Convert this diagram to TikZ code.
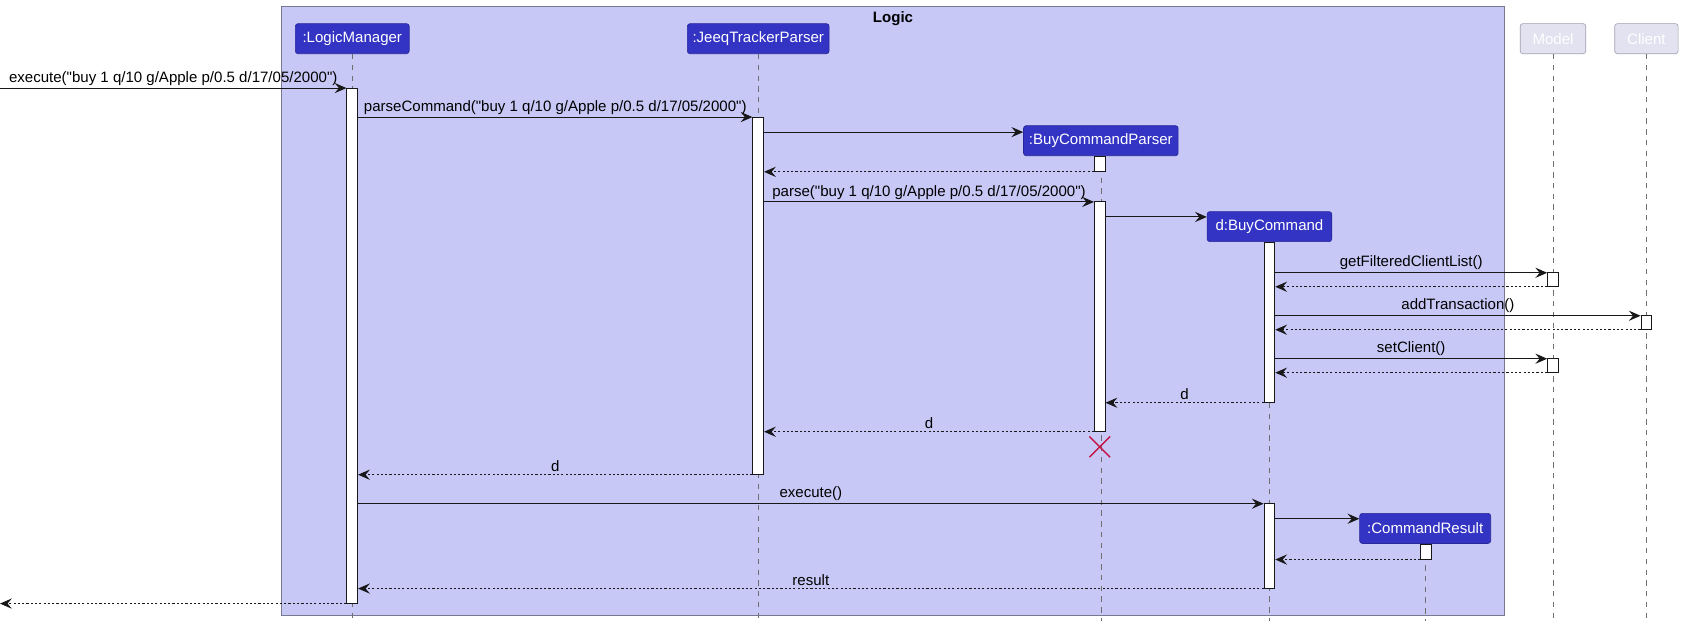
\documentclass[tikz,border=0pt]{standalone}
\usepackage{fontspec}
\newfontfamily\uifont{Liberation Sans}
\usetikzlibrary{arrows.meta,shapes.misc}
\definecolor{framefill}{RGB}{200,200,247}
\definecolor{frameborder}{RGB}{120,120,145}
\definecolor{partfill}{RGB}{51,51,196}
\definecolor{partborder}{RGB}{40,40,150}
\definecolor{extfill}{RGB}{226,226,240}
\definecolor{extborder}{RGB}{160,160,178}
\definecolor{linecol}{RGB}{24,24,24}
\definecolor{lifecol}{RGB}{110,110,110}
\definecolor{xred}{RGB}{196,20,70}
\newcommand{\lblfont}{\uifont\fontsize{14}{16}\selectfont}
\begin{document}
\begin{tikzpicture}[x=1pt,y=-1pt,
  part/.style={rectangle, rounded corners=2.5pt, draw=partborder, line width=0.6pt, fill=partfill, text=white, minimum height=28pt, inner xsep=2pt, inner ysep=0pt, font=\lblfont},
  extpart/.style={part, fill=extfill, draw=extborder},
  actbar/.style={rectangle, draw=linecol, fill=white, line width=0.8pt, minimum width=10pt, inner sep=0pt},
  life/.style={draw=lifecol, line width=0.6pt, dash pattern=on 5pt off 5pt},
  call/.style={draw=linecol, line width=1pt, -{Stealth[length=11pt,width=9.5pt,inset=4pt]}},
  ret/.style={draw=linecol, line width=0.9pt, dash pattern=on 2pt off 2pt, -{Stealth[length=11pt,width=9.5pt,inset=4pt]}},
  lbl/.style={midway, above, inner sep=2pt, font=\lblfont, text=black}
]
\useasboundingbox (0,0) rectangle (1568,584);
% frame
\node[draw=frameborder, fill=framefill, line width=0.8pt, minimum width=1139pt, minimum height=567pt, inner sep=0pt] (frame) at (831.5,289.5) {};
\node[font=\uifont\bfseries\fontsize{14}{16}\selectfont, anchor=north] (ftitle) at (831.5,7) {Logic};
% levels
\coordinate (bot) at (0,578);
\foreach \yy in {82,109,123,160,188,202,254,267,294,307,334,347,375,402,442,469,483,521,548,562}{\coordinate (y\yy) at (0,\yy);}
\coordinate (ext1) at (0,82);
\coordinate (ext2) at (0,562);
% participants
\node[part, minimum width=106pt] (LM) at (328,36) {:LogicManager};
\node[part, minimum width=132pt] (JT) at (706,36) {:JeeqTrackerParser};
\node[part, minimum width=144pt] (BCP) at (1025,131) {:BuyCommandParser};
\node[part, minimum width=116pt] (BC) at (1182,211) {d:BuyCommand};
\node[part, minimum width=122pt] (CR) at (1327,492) {:CommandResult};
\node[extpart, minimum width=61pt] (MO) at (1446,36) {Model};
\node[extpart, minimum width=59pt] (CL) at (1533,36) {Client};
% lifelines
\foreach \p in {LM,JT,BCP,BC,CR,MO,CL}{\draw[life] (\p.south) -- (\p.south |- bot);}
% activation bars
\node[actbar, minimum height=480pt] (LMa) at (328,322) {};
\node[actbar, minimum height=333pt] (JTa) at (706,275.5) {};
\node[actbar, minimum height=14pt] (BPa1) at (1024,153) {};
\node[actbar, minimum height=214pt] (BPa2) at (1024,295) {};
\node[actbar, minimum height=149pt] (BCa1) at (1182,300.5) {};
\node[actbar, minimum height=13pt] (MOa1) at (1446,260.5) {};
\node[actbar, minimum height=13pt] (CLa) at (1533,300.5) {};
\node[actbar, minimum height=13pt] (MOa2) at (1446,340.5) {};
\node[actbar, minimum height=79pt] (BCa2) at (1182,508.5) {};
\node[actbar, minimum height=14pt] (CRa) at (1328,514) {};
% destroy
\node[cross out, draw=xred, line width=1.3pt, minimum size=18pt, inner sep=0pt] (X) at (1024,416) {};
% messages
\draw[call] (ext1) -- node[lbl]{execute("buy 1 q/10 g/Apple p/0.5 d/17/05/2000")} (LMa.west |- ext1);
\draw[call] (LMa.east |- y109) -- node[lbl]{parseCommand("buy 1 q/10 g/Apple p/0.5 d/17/05/2000")} (JTa.west |- y109);
\draw[call] (JTa.east |- y123) -- (BCP.west |- y123);
\draw[ret] (BPa1.west |- y160) -- (JTa.east |- y160);
\draw[call] (JTa.east |- y188) -- node[lbl]{parse("buy 1 q/10 g/Apple p/0.5 d/17/05/2000")} (BPa2.west |- y188);
\draw[call] (BPa2.east |- y202) -- (BC.west |- y202);
\draw[call] (BCa1.east |- y254) -- node[lbl]{getFilteredClientList()} (MOa1.west |- y254);
\draw[ret] (MOa1.west |- y267) -- (BCa1.east |- y267);
\draw[call] (BCa1.east |- y294) -- node[lbl]{addTransaction()} (CLa.west |- y294);
\draw[ret] (CLa.west |- y307) -- (BCa1.east |- y307);
\draw[call] (BCa1.east |- y334) -- node[lbl]{setClient()} (MOa2.west |- y334);
\draw[ret] (MOa2.west |- y347) -- (BCa1.east |- y347);
\draw[ret] (BCa1.west |- y375) -- node[lbl]{d} (BPa2.east |- y375);
\draw[ret] (BPa2.west |- y402) -- node[lbl]{d} (JTa.east |- y402);
\draw[ret] (JTa.west |- y442) -- node[lbl]{d} (LMa.east |- y442);
\draw[call] (LMa.east |- y469) -- node[lbl]{execute()} (BCa2.west |- y469);
\draw[call] (BCa2.east |- y483) -- (CR.west |- y483);
\draw[ret] (CRa.west |- y521) -- (BCa2.east |- y521);
\draw[ret] (BCa2.west |- y548) -- node[lbl]{result} (LMa.east |- y548);
\draw[ret] (LMa.west |- ext2) -- (ext2);
\end{tikzpicture}
\end{document}
